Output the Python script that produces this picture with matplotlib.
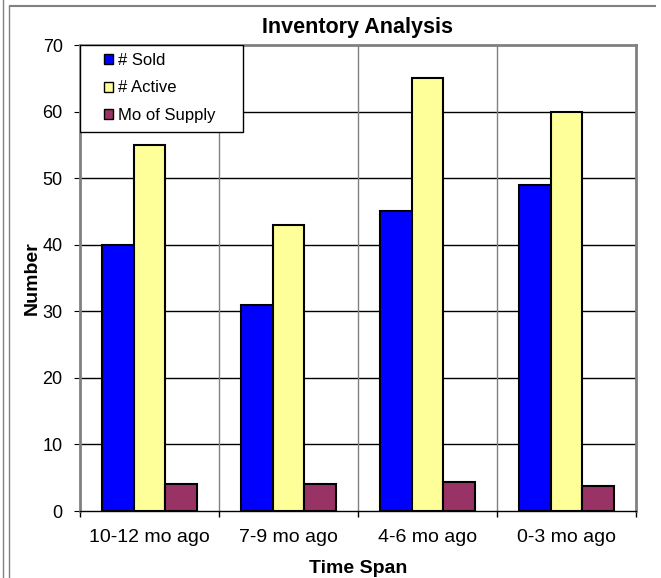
import matplotlib.pyplot as plt
import numpy as np
from matplotlib.patches import Patch, Rectangle
from matplotlib.lines import Line2D

plt.rcParams['font.family'] = ['Liberation Sans', 'DejaVu Sans']

# data
spans = ["10-12 mo ago", "7-9 mo ago", "4-6 mo ago", "0-3 mo ago"]
sold = [40, 31, 45, 49]
active = [55, 43, 65, 60]
supply = [4.1, 4.1, 4.3, 3.7]

series_names = ["# Sold", "# Active", "Mo of Supply"]
colors = ["#0000FF", "#FFFF99", "#993366"]

fig = plt.figure(figsize=(6.61, 5.78), dpi=100)
ax = fig.add_axes([80/661, 1 - 511/578, 556/661, 466/578])

x = np.arange(len(spans))
w = 0.23
for i, (vals, c) in enumerate(zip([sold, active, supply], colors)):
    ax.bar(x + (i - 1) * w, vals, w, color=c, edgecolor="black", linewidth=1.5, zorder=3)

ax.set_xlim(-0.5, len(spans) - 0.5)
ax.set_ylim(0, 70)
ax.set_yticks(range(0, 71, 10))
for yv in range(10, 70, 10):
    ax.axhline(yv, color="black", linewidth=1, zorder=1)
for xv in x[:-1] + 0.5:
    ax.axvline(xv, color="#808080", linewidth=1, zorder=1)

ax.set_xticks(x)
ax.set_xticklabels(spans)
ax.set_xticks(np.arange(-0.5, len(spans)), minor=True)
ax.tick_params(axis="x", which="major", length=0, pad=13, labelsize=14)
ax.tick_params(axis="x", which="minor", length=4.5, direction="out", width=1)
ax.tick_params(axis="y", length=4.5, direction="out", labelsize=13, pad=8)

for side in ["top", "right", "left"]:
    ax.spines[side].set_color("#808080")
    ax.spines[side].set_linewidth(2)
ax.spines["bottom"].set_color("black")
ax.spines["bottom"].set_linewidth(1)

ax.set_title("Inventory Analysis", fontsize=15.5, fontweight="bold", pad=9)
ax.set_xlabel("Time Span", fontsize=14, fontweight="bold", labelpad=10)
ax.set_ylabel("Number", fontsize=14, fontweight="bold", labelpad=1)

# legend box (white panel in the upper left corner)
ax.add_patch(Rectangle((0, 1 - 87/466), 163/556, 87/466, transform=ax.transAxes,
                       facecolor="white", edgecolor="black", linewidth=1, zorder=4))
handles = [Patch(facecolor=c, edgecolor="black", linewidth=1) for c in colors]
leg = ax.legend(handles, series_names, loc="upper left", bbox_to_anchor=(24/556, 1 - 8/466),
                borderaxespad=0, borderpad=0, frameon=False, fontsize=12,
                handlelength=0.55, handleheight=0.55, handletextpad=0.3,
                labelspacing=0.75)
leg.set_zorder(5)

# outer frame of the chart area
fig.add_artist(Line2D([10/661, 655/661], [1 - 6/578, 1 - 6/578], color="#808080", linewidth=1.5))
fig.add_artist(Line2D([3/661, 3/661], [0, 1], color="#808080", linewidth=1))
fig.add_artist(Line2D([9/661, 9/661], [0, 1 - 6/578], color="#808080", linewidth=1))

fig.savefig("out.png", dpi=100)
